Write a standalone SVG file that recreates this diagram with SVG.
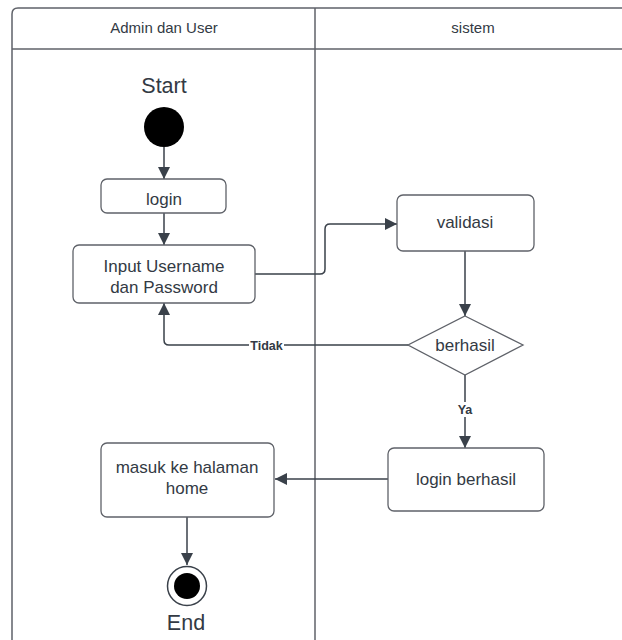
<svg xmlns="http://www.w3.org/2000/svg" width="622" height="640" viewBox="0 0 622 640">
<defs>
<style>
.lane{fill:none;stroke:#5f6269;stroke-width:1.5}
.box{fill:#fff;stroke:#5f6269;stroke-width:1.3}
.t{font-family:"Liberation Sans",Arial,sans-serif;font-size:17px;fill:#333a44;text-anchor:middle}
.big{font-size:21.5px}
.hd{font-size:15px}
.lbl{font-family:"Liberation Sans",Arial,sans-serif;font-size:12.5px;font-weight:bold;fill:#333a44;text-anchor:middle}
.c{fill:none;stroke:#3a414a;stroke-width:1.5}
</style>
<marker id="ah" markerWidth="12" markerHeight="12" viewBox="0 0 12 12" refX="12" refY="6" orient="auto" markerUnits="userSpaceOnUse">
<path d="M0,0 L12,6 L0,12 z" fill="#3a414a"/>
</marker>
</defs>
<rect width="622" height="640" fill="#fff"/>
<g id="swimlanes">
<path class="lane" d="M12,650 L12,14 Q12,8 18,8 L630,8"/>
<line class="lane" x1="12" y1="49" x2="630" y2="49"/>
<line class="lane" x1="315" y1="8" x2="315" y2="650"/>
<text class="t hd" x="164" y="33">Admin dan User</text>
<text class="t hd" x="473" y="33">sistem</text>
</g>
<g id="connectors">
<line class="c" x1="164" y1="147" x2="164" y2="179" marker-end="url(#ah)"/>
<line class="c" x1="164" y1="213" x2="164" y2="245" marker-end="url(#ah)"/>
<path class="c" d="M255,274 L320,274 Q325,274 325,269 L325,229 Q325,224 330,224 L397,224" marker-end="url(#ah)"/>
<line class="c" x1="465" y1="251" x2="465" y2="316" marker-end="url(#ah)"/>
<path class="c" d="M408,345 L169,345 Q164,345 164,340 L164,303" marker-end="url(#ah)"/>
<line class="c" x1="465" y1="375" x2="465" y2="448" marker-end="url(#ah)"/>
<line class="c" x1="388" y1="479" x2="275" y2="479" marker-end="url(#ah)"/>
<line class="c" x1="187" y1="517" x2="187" y2="565" marker-end="url(#ah)"/>
<rect x="249" y="338" width="35" height="14" fill="#fff"/>
<text class="lbl" x="266.5" y="349.5">Tidak</text>
<rect x="455" y="402" width="20" height="15" fill="#fff"/>
<text class="lbl" x="465" y="414">Ya</text>
</g>
<g id="start">
<text class="t big" x="164" y="93">Start</text>
<circle cx="164" cy="127" r="20" fill="#000"/>
</g>
<g id="login">
<rect class="box" x="101" y="179" width="125" height="34" rx="6"/>
<text class="t" x="164" y="205">login</text>
</g>
<g id="input">
<rect class="box" x="73" y="245" width="182" height="58" rx="6"/>
<text class="t" x="164" y="272">Input Username</text>
<text class="t" x="164" y="293">dan Password</text>
</g>
<g id="validasi">
<rect class="box" x="397" y="195" width="137" height="56" rx="6"/>
<text class="t" x="465" y="228">validasi</text>
</g>
<g id="berhasil">
<polygon class="box" points="465,316 523,345 465,375 408,345"/>
<text class="t" x="465" y="351">berhasil</text>
</g>
<g id="loginBerhasil">
<rect class="box" x="388" y="448" width="156" height="63" rx="6"/>
<text class="t" x="466" y="485">login berhasil</text>
</g>
<g id="masuk">
<rect class="box" x="101" y="443" width="173" height="74" rx="6"/>
<text class="t" x="187" y="473">masuk ke halaman</text>
<text class="t" x="187" y="494">home</text>
</g>
<g id="end">
<circle cx="187" cy="586" r="19.5" fill="#fff" stroke="#3a414a" stroke-width="1.5"/>
<circle cx="187" cy="586" r="13" fill="#000"/>
<text class="t big" x="186" y="630">End</text>
</g>
</svg>
